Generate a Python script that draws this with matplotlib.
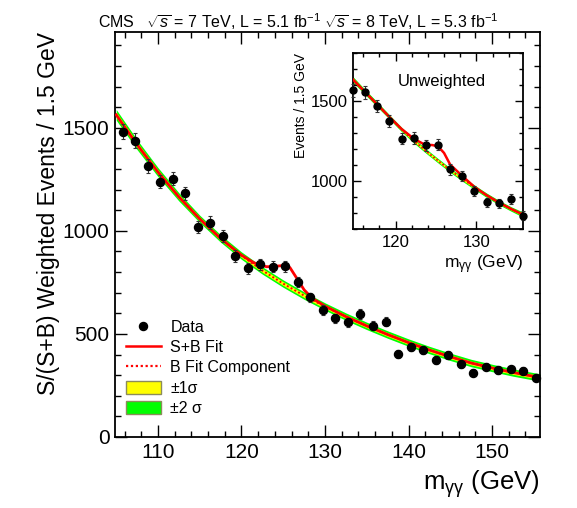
import matplotlib
matplotlib.use("Agg")
import matplotlib.pyplot as plt
import numpy as np
from matplotlib.lines import Line2D
from matplotlib.patches import Patch
from matplotlib.ticker import MultipleLocator

plt.rcParams["font.family"] = ["Liberation Sans", "DejaVu Sans"]
plt.rcParams["mathtext.fontset"] = "custom"
plt.rcParams["mathtext.rm"] = "Liberation Sans"
plt.rcParams["mathtext.it"] = "Liberation Sans:italic"

# --- main plot: S/(S+B) weighted events ---
massa = [105.75, 107.25, 108.75, 110.25, 111.75, 113.25, 114.75, 116.25, 117.75,
         119.25, 120.75, 122.25, 123.75, 125.25, 126.75, 128.25, 129.75, 131.25,
         132.75, 134.25, 135.75, 137.25, 138.75, 140.25, 141.75, 143.25, 144.75,
         146.25, 147.75, 149.25, 150.75, 152.25, 153.75, 155.25]
eventos = [1482, 1438, 1315, 1239, 1254, 1183, 1018, 1040, 976, 877, 819, 838,
           827, 829, 752, 677, 616, 576, 557, 597, 540, 560, 403, 438, 422, 374,
           398, 353, 312, 341, 325, 329, 322, 288]
erros = [36, 35, 34, 33, 33, 32, 30, 30, 29, 28, 27, 27, 27, 27, 26, 24, 23, 23,
         22, 23, 22, 22, 19, 20, 19, 18, 19, 18, 17, 17, 17, 17, 17, 16]

fundo_x = [105.0, 107.5, 110.0, 112.5, 115.0, 117.5, 120.0, 122.5, 125.0, 127.5,
           130.0, 132.5, 135.0, 137.5, 140.0, 142.5, 145.0, 147.5, 150.0, 152.5,
           155.0, 155.75]
fundo = [1563, 1418, 1285, 1165, 1058, 963, 880, 808, 744, 686, 633, 584, 539,
         497, 458, 422, 389, 359, 335, 313, 294, 289]
sigma1 = [13, 12, 11, 10, 9, 9, 9, 9, 9, 9, 9, 9, 9, 9, 9, 9, 9, 9, 9, 9, 9, 9]

sb_x = [105.0, 107.5, 110.0, 112.5, 115.0, 117.5, 120.0, 121.5, 123.0, 124.0,
        125.0, 125.8, 126.7, 127.5, 128.5, 130.0, 132.5, 135.0, 137.5, 140.0,
        142.5, 145.0, 147.5, 150.0, 152.5, 155.0, 155.75]
sb = [1563, 1418, 1285, 1165, 1058, 963, 882, 845, 826, 828, 832, 822, 765, 714,
      672, 635, 584, 539, 497, 458, 422, 389, 359, 335, 313, 294, 289]

# --- inset: unweighted ---
massa_in = [114.75, 116.25, 117.75, 119.25, 120.75, 122.25, 123.75, 125.25,
            126.75, 128.25, 129.75, 131.25, 132.75, 134.25, 135.75]
eventos_in = [1568, 1554, 1471, 1376, 1265, 1269, 1223, 1227, 1072, 1031, 938,
              866, 860, 887, 783]
erros_in = [40, 39, 38, 37, 36, 36, 35, 35, 33, 32, 31, 29, 29, 30, 28]
fundo_in = [1634, 1555, 1478, 1400, 1322, 1252, 1188, 1127, 1068, 1013, 961, 911,
            866, 826, 790]
sigma1_in = [9, 8, 8, 7, 7, 7, 7, 7, 7, 7, 7, 7, 7, 7, 8]
sb_x_in = [114.75, 116.25, 117.75, 119.25, 120.75, 122.25, 123.75, 124.5, 125.25,
           126.0, 126.75, 128.25, 129.75, 131.25, 132.75, 134.25, 135.75]
sb_in = [1634, 1555, 1478, 1400, 1325, 1265, 1223, 1225, 1217, 1175, 1103, 1031,
         963, 911, 866, 826, 790]

VERDE = "#00ff00"
AMARELO = "#ffff00"
VERMELHO = "#ff0000"


def desenhar(ax, xd, yd, ed, xf, yf, s1, xs, ys, lw, ms, cap):
    xf = np.array(xf)
    yf = np.array(yf)
    s1 = np.array(s1)
    ax.fill_between(xf, yf - 2 * s1, yf + 2 * s1, color=VERDE, lw=0, zorder=1)
    ax.fill_between(xf, yf - s1, yf + s1, color=AMARELO, lw=0, zorder=2)
    ax.plot(xf, yf, color=VERMELHO, ls=(0, (1, 1.2)), lw=lw * 0.7, zorder=3)
    ax.plot(xs, ys, color=VERMELHO, lw=lw, zorder=4)
    ax.errorbar(xd, yd, yerr=ed, fmt="o", color="black", ms=ms, elinewidth=0.8,
                ecolor="#333333", capsize=cap, capthick=0.8, zorder=5,
                clip_on=False)


def estilo(ax, maj, minx, miny, tam):
    ax.xaxis.set_minor_locator(MultipleLocator(minx))
    ax.yaxis.set_minor_locator(MultipleLocator(miny))
    ax.xaxis.set_major_locator(MultipleLocator(10))
    ax.yaxis.set_major_locator(MultipleLocator(500))
    ax.tick_params(which="both", direction="in", top=True, right=True,
                   width=1.0, pad=4)
    ax.tick_params(which="major", length=maj, labelsize=tam)
    ax.tick_params(which="minor", length=maj / 2)
    for s in ax.spines.values():
        s.set_linewidth(1.3)


fig = plt.figure(figsize=(5.77, 5.08), dpi=100)
ax = fig.add_axes([0.1993, 0.1398, 0.7366, 0.7972])
desenhar(ax, massa, eventos, erros, fundo_x, fundo, sigma1, sb_x, sb, 2.0, 5.8, 1.5)
ax.set_xlim(104.85, 155.75)
ax.set_ylim(0, 1965)
estilo(ax, 8.5, 2, 100, 15)

ax.set_xlabel(r"m$_{\mathrm{\gamma\gamma}}$ (GeV)", fontsize=18.5, loc="right",
              labelpad=5)
ax.set_ylabel("S/(S+B) Weighted Events / 1.5 GeV", fontsize=16.5, loc="top",
              labelpad=2)

handles = [
    Line2D([], [], marker="o", color="black", ls="none", ms=5.8),
    Line2D([], [], color=VERMELHO, lw=1.8),
    Line2D([], [], color=VERMELHO, lw=1.6, ls=(0, (1, 1.2))),
    Patch(facecolor=AMARELO, edgecolor="#8c8c5a", lw=1),
    Patch(facecolor=VERDE, edgecolor="#8c8c5a", lw=1),
]
labels = ["Data", "S+B Fit", "B Fit Component", "±1σ", "±2 σ"]
ax.legend(handles, labels, loc="upper left", bbox_to_anchor=(0.01, 0.305),
          frameon=False, fontsize=11.5, handlelength=2.2, handleheight=0.85,
          handletextpad=0.6, labelspacing=0.33, borderaxespad=0)

fig.text(0.170, 0.958, r"CMS   $\sqrt{s}$ = 7 TeV, L = 5.1 fb$^{-1}$ "
         r"$\sqrt{s}$ = 8 TeV, L = 5.3 fb$^{-1}$", fontsize=11.5, va="center")

# inset
axi = fig.add_axes([0.6118, 0.5492, 0.2946, 0.3465])
desenhar(axi, massa_in, eventos_in, erros_in, massa_in, fundo_in, sigma1_in,
         sb_x_in, sb_in, 1.8, 5.0, 1.2)
axi.set_xlim(114.75, 135.75)
axi.set_ylim(700, 1800)
estilo(axi, 5.5, 2, 100, 12)
axi.set_xlabel(r"m$_{\mathrm{\gamma\gamma}}$ (GeV)", fontsize=12.5, loc="right",
               labelpad=3)
axi.set_ylabel("Events / 1.5 GeV", fontsize=10, loc="top", labelpad=2)
axi.text(0.52, 0.84, "Unweighted", transform=axi.transAxes, ha="center",
         va="center", fontsize=12)

fig.savefig("out.png", dpi=100)
